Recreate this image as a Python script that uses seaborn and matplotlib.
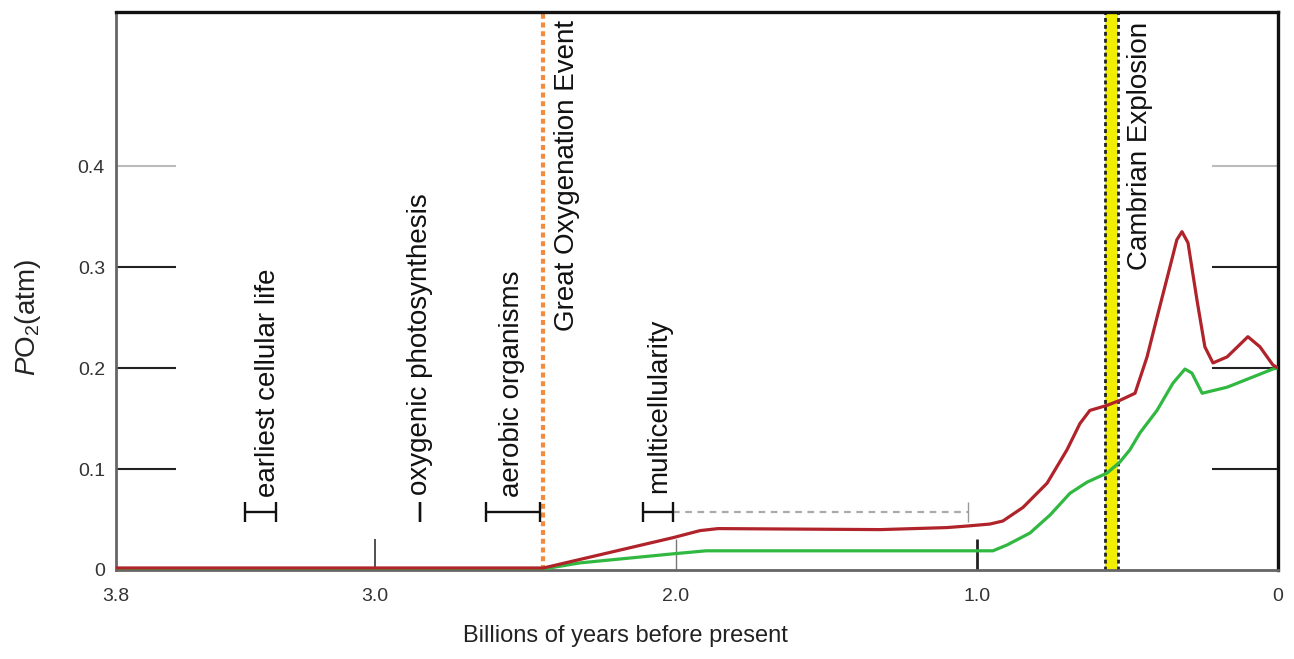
import matplotlib
matplotlib.use("Agg")
import matplotlib.pyplot as plt
import numpy as np
import pandas as pd
import seaborn as sns

# ---------------- data ----------------
red_age = [3.86, 2.44, 2.01, 1.92, 1.86, 1.32, 1.10, 1.03, 0.957, 0.914, 0.847,
           0.767, 0.701, 0.658, 0.625, 0.568, 0.525, 0.475, 0.435, 0.402, 0.359,
           0.336, 0.319, 0.299, 0.269, 0.243, 0.216, 0.169, 0.10, 0.06, 0.017, 0.0]
red_po2 = [0.002, 0.002, 0.032, 0.039, 0.041, 0.040, 0.042, 0.0436, 0.0455, 0.0485, 0.062,
           0.086, 0.119, 0.145, 0.158, 0.163, 0.168, 0.175, 0.211, 0.25, 0.30,
           0.327, 0.335, 0.324, 0.267, 0.221, 0.205, 0.211, 0.231, 0.221, 0.203, 0.200]

green_age = [3.86, 2.44, 2.32, 2.01, 1.90, 0.947, 0.90, 0.824, 0.757, 0.691, 0.634,
             0.568, 0.525, 0.492, 0.458, 0.402, 0.349, 0.309, 0.286, 0.252, 0.169,
             0.017, 0.0]
green_po2 = [0.001, 0.001, 0.007, 0.016, 0.019, 0.019, 0.0248, 0.0366, 0.0545, 0.076, 0.087,
             0.096, 0.107, 0.119, 0.136, 0.158, 0.185, 0.199, 0.195, 0.175, 0.181,
             0.199, 0.200]

event_labels = ["earliest cellular life", "oxygenic photosynthesis",
                "aerobic organisms", "multicellularity"]
event_start = [3.43, 2.85, 2.63, 2.11]
event_end = [3.33, 2.85, 2.45, 2.01]
event_level = 0.0574
multicell_until = 1.03

goe_age = 2.44
goe_label = "Great Oxygenation Event"
cambrian_start = 0.575
cambrian_end = 0.53
cambrian_label = "Cambrian Explosion"

xtick_pos = [3.86, 3.0, 2.0, 1.0, 0.0]
xtick_labels = ["3.8", "3.0", "2.0", "1.0", "0"]
ytick_pos = [0.0, 0.1, 0.2, 0.3, 0.4]
ytick_labels = ["0", "0.1", "0.2", "0.3", "0.4"]
xlabel = "Billions of years before present"
ylabel = r"$P$O$_2$(atm)"

# label layout (positions for the rotated annotations)
event_label_x = [3.355, 2.85, 2.545, 2.055]
event_label_y = [0.072, 0.074, 0.072, 0.076]

# ---------------- style ----------------
sns.set_theme(style="white")
plt.rcParams["font.family"] = ["Liberation Sans", "DejaVu Sans"]
plt.rcParams["mathtext.fontset"] = "custom"
plt.rcParams["mathtext.rm"] = "Liberation Sans"
plt.rcParams["mathtext.it"] = "Liberation Sans:italic"

fig = plt.figure(figsize=(12.94, 6.59), dpi=100)
ax = fig.add_axes([116 / 1294, 1 - 570 / 659, 1162 / 1294, 558 / 659])

# Cambrian band and GOE line
ax.axvspan(cambrian_end, cambrian_start, color="#f2ee00", zorder=1, lw=0)
for xv in (cambrian_start, cambrian_end):
    ax.axvline(xv, color="#222222", lw=2.0, ls=(0, (1.4, 1.1)), zorder=2)
ax.axvline(goe_age, color="#f28b3c", lw=3.0, ls=(0, (1.2, 0.9)), zorder=2)

# curves
df = pd.DataFrame({
    "age": green_age + red_age,
    "po2": green_po2 + red_po2,
    "bound": ["lower"] * len(green_age) + ["upper"] * len(red_age),
})
sns.lineplot(data=df, x="age", y="po2", hue="bound",
             palette={"lower": "#30b840", "upper": "#b0232a"},
             estimator=None, sort=False, lw=2.3, legend=False, ax=ax, zorder=3)

# event ranges
for s, e in zip(event_start, event_end):
    mid = (s + e) / 2
    ax.errorbar([mid], [event_level], xerr=[[abs(s - e) / 2]], fmt="none",
                ecolor="#111111", elinewidth=1.7, capsize=7.2, capthick=1.7, zorder=4)
ax.plot([event_end[3], multicell_until], [event_level, event_level],
        color="#aaaaaa", lw=1.6, ls=(0, (3, 2.5)), zorder=2)
ax.plot([multicell_until], [event_level], marker="|", ms=15, mew=1.0,
        color="#999999", zorder=2)

for lab, lx, ly in zip(event_labels, event_label_x, event_label_y):
    ax.text(lx, ly, lab, rotation=90, ha="center", va="bottom",
            fontsize=20, color="#111111")
ax.text(2.362, 0.5446, goe_label, rotation=90, ha="center", va="top",
        fontsize=20, color="#111111")
ax.text(0.458, 0.5426, cambrian_label, rotation=90, ha="center", va="top",
        fontsize=20, color="#111111")

# axes
ax.set_xlim(3.86, 0.0)
ax.set_ylim(0, 0.5525)
ax.set_xticks(xtick_pos, xtick_labels)
ax.set_yticks(ytick_pos, ytick_labels)
ax.set_xlabel(xlabel, fontsize=17, color="#222222")
ax.set_ylabel(ylabel, fontsize=20, color="#222222")
ax.xaxis.set_label_coords(0.438, -0.098)
ax.yaxis.set_label_coords(-0.063, 0.453)

for side in ("top", "right"):
    ax.spines[side].set_color("#111111")
    ax.spines[side].set_linewidth(2.4)
for side in ("left", "bottom"):
    ax.spines[side].set_color("#666666")
    ax.spines[side].set_linewidth(2.0)

ax.tick_params(axis="y", direction="in", left=True, right=True, length=43,
               width=1.5, color="#222222", labelsize=14, labelcolor="#333333", pad=8)
ax.tick_params(axis="x", direction="in", bottom=True, top=False, length=22,
               width=1.2, color="#222222", labelsize=14, labelcolor="#333333", pad=13)

yt = ax.yaxis.get_major_ticks()
for t, v in zip(yt, ytick_pos):
    t.tick2line.set_markersize(47.5)
    if v == 0.0:
        t.tick1line.set_visible(False)
        t.tick2line.set_visible(False)
    if v == 0.4:
        for ln in (t.tick1line, t.tick2line):
            ln.set_color("#bbbbbb")
            ln.set_markeredgecolor("#bbbbbb")
xt = ax.xaxis.get_major_ticks()
for t, v in zip(xt, xtick_pos):
    if v in (3.86, 0.0):
        t.tick1line.set_visible(False)
    if v == 2.0:
        t.tick1line.set_color("#777777")
        t.tick1line.set_markeredgecolor("#777777")
        t.tick1line.set_markeredgewidth(1.0)
    if v == 1.0:
        t.tick1line.set_markeredgewidth(2.0)
    if v == 3.0:
        t.tick1line.set_markeredgewidth(1.1)

fig.savefig("out.png", dpi=100, facecolor="white")
